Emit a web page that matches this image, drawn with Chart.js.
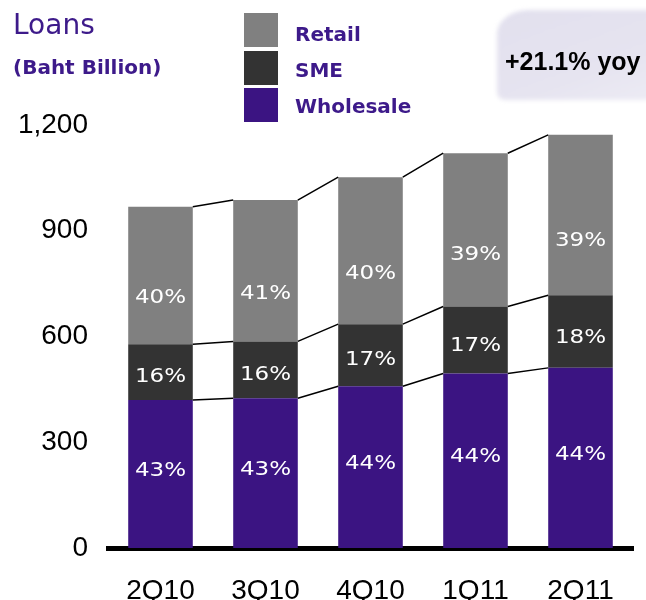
<!DOCTYPE html>
<html>
<head>
<meta charset="utf-8">
<script src="https://cdn.jsdelivr.net/npm/chart.js@4.4.0/dist/chart.umd.min.js"></script>
<style>
    body { margin: 0; background: #fff; overflow: hidden; }
    #wrap { position: relative; width: 646px; height: 600px; overflow: hidden; }
    #chart { position: absolute; left: 0; top: 0; }
    .purple { position: absolute; color: #3d1a8a; font-family: "DejaVu Sans", sans-serif; white-space: nowrap; }
    .swatch { position: absolute; left: 244px; width: 34px; height: 34px; }
    #yoy-bg {
        position: absolute; left: 497px; top: 10px; width: 190px; height: 90px;
        background: linear-gradient(160deg, #e2e0ee 0%, #e6e4f0 60%, #eeedf5 100%);
        border-radius: 32px 0 0 8px / 24px 0 0 8px; filter: blur(2px);
    }
    #yoy {
        position: absolute; left: 505px; top: 47px; line-height: 24px;
        font: bold 25px "Liberation Sans", Arial, sans-serif; color: #000;
        white-space: nowrap;
    }
</style>
</head>
<body>
<div id="wrap">
    <canvas id="chart" width="646" height="600"></canvas>
    <div class="purple" style="left:13px; top:10px; font-size:28px; line-height:30px;">Loans</div>
    <div class="purple" style="left:13px; top:55px; font-size:20px; line-height:24px; font-weight:bold;">(Baht Billion)</div>
    <div id="legend"></div>
    <div id="yoy-bg"></div>
    <div id="yoy"></div>
</div>
<script>
const quarters = ['2Q10', '3Q10', '4Q10', '1Q11', '2Q11'];
const wholesale = [420, 425, 459, 495, 511];
const sme = [158, 161, 176, 190, 206];
const retail = [390, 401, 417, 435, 455];
const yTicks = [0, 300, 600, 900, 1200];

const totals = quarters.map((q, i) => wholesale[i] + sme[i] + retail[i]);

const series = [
    { label: 'Wholesale', data: wholesale, color: '#3b1482', labelPos: 0.48 },
    { label: 'SME', data: sme, color: '#333333', labelPos: 0.58 },
    { label: 'Retail', data: retail, color: '#808080', labelPos: 0.66 }
];

// legend, top to bottom: Retail, SME, Wholesale
const legend = document.getElementById('legend');
series.slice().reverse().forEach((s, i) => {
    const sw = document.createElement('div');
    sw.className = 'swatch';
    sw.style.top = (13 + i * 37.5) + 'px';
    sw.style.background = s.color;
    legend.appendChild(sw);
    const txt = document.createElement('div');
    txt.className = 'purple';
    txt.style.cssText = 'left:295px; font-size:20px; line-height:24px; font-weight:bold; top:' + (22 + i * 36) + 'px';
    txt.textContent = s.label;
    legend.appendChild(txt);
});

const growth = (totals[totals.length - 1] / totals[0] - 1) * 100;
document.getElementById('yoy').textContent = '+' + growth.toFixed(1) + '% yoy';

// thin lines joining each segment top to the same segment on the next bar,
// then the share labels inside each segment
const segmentPlugin = {
    id: 'segments',
    afterDatasetsDraw(chart) {
        const ctx = chart.ctx;
        ctx.save();
        ctx.strokeStyle = '#000';
        ctx.lineWidth = 1.5;
        chart.data.datasets.forEach((ds, d) => {
            const bars = chart.getDatasetMeta(d).data;
            ctx.beginPath();
            for (let i = 0; i < bars.length - 1; i++) {
                const a = bars[i], b = bars[i + 1];
                ctx.moveTo(a.x + a.width / 2, a.y);
                ctx.lineTo(b.x - b.width / 2, b.y);
            }
            ctx.stroke();
        });

        ctx.fillStyle = '#fff';
        ctx.font = '20px "DejaVu Sans"';
        ctx.textAlign = 'center';
        ctx.textBaseline = 'middle';
        chart.data.datasets.forEach((ds, d) => {
            const bars = chart.getDatasetMeta(d).data;
            bars.forEach((bar, i) => {
                const pct = Math.round(ds.data[i] / totals[i] * 100) + '%';
                const y = bar.y + (bar.base - bar.y) * series[d].labelPos;
                ctx.save();
                ctx.translate(bar.x, y);
                ctx.scale(1.15, 1);
                ctx.fillText(pct, 0, 0);
                ctx.restore();
            });
        });
        ctx.restore();
    }
};

new Chart(document.getElementById('chart'), {
    type: 'bar',
    data: {
        labels: quarters,
        datasets: series.map(s => ({
            label: s.label,
            data: s.data,
            backgroundColor: s.color,
            borderWidth: 0,
            barPercentage: 0.615,
            categoryPercentage: 1
        }))
    },
    options: {
        responsive: false,
        animation: false,
        layout: {
            padding: { top: 125, right: 13, bottom: 0, left: 0 }
        },
        scales: {
            x: {
                stacked: true,
                z: 1,
                grid: { display: false, drawTicks: false },
                border: { display: true, color: '#000', width: 5 },
                ticks: {
                    color: '#000',
                    padding: 26,
                    font: { family: 'Liberation Sans', size: 28 }
                },
                afterFit(scale) { scale.height = 52; }
            },
            y: {
                stacked: true,
                min: 0,
                max: 1200,
                grid: { display: false, drawTicks: false },
                border: { display: false },
                afterBuildTicks(scale) {
                    scale.ticks = yTicks.map(v => ({ value: v }));
                },
                ticks: {
                    color: '#000',
                    padding: 20,
                    font: { family: 'Liberation Sans', size: 28 },
                    callback: v => v.toLocaleString('en-US')
                },
                afterFit(scale) { scale.width = 108; }
            }
        },
        plugins: {
            legend: { display: false },
            tooltip: { enabled: false }
        }
    },
    plugins: [segmentPlugin]
});
</script>
</body>
</html>
